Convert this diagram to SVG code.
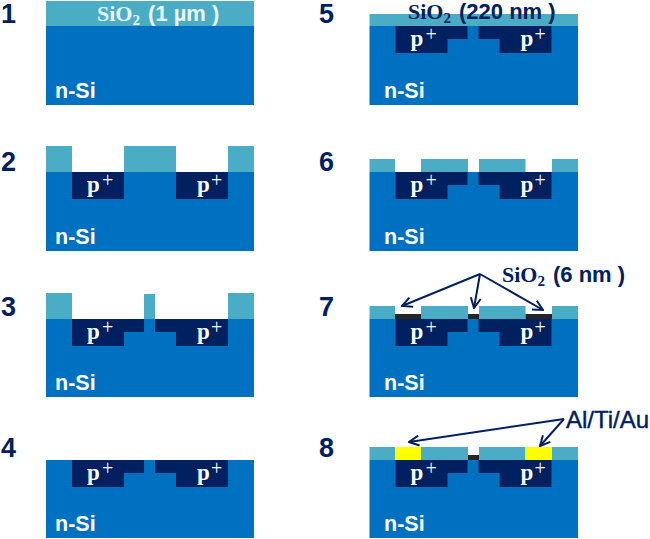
<svg xmlns="http://www.w3.org/2000/svg" xmlns:xlink="http://www.w3.org/1999/xlink" width="650" height="539" viewBox="0 0 650 539">
<style>
.si{fill:#0070c0}.ox{fill:#4bacc6}.p{fill:#002060}.blk{fill:#262626}.au{fill:#ffff00}
text{font-family:"Liberation Sans",Arial,sans-serif}
.num{font-size:27px;font-weight:bold;fill:#002060}
.n{font-size:21.5px;font-weight:bold;fill:#fff}
.pt{font-family:"Liberation Serif",serif;font-size:23px;font-weight:bold;fill:#fff}
.pl{font-family:"Liberation Serif",serif;font-size:20px;fill:#fff}
.sio{font-family:"Liberation Serif",serif;font-size:22px;font-weight:bold}
.sub{font-size:15px}
.par{font-size:22px;font-weight:bold}
.lab{font-size:24px;fill:#002060;stroke:#002060;stroke-width:.4}
.wh{fill:#eaf6f9}.dk{fill:#002060}
.con{fill:none;stroke:#002060;stroke-width:2}
</style>
<defs>
<marker id="a" viewBox="0 0 12 12" refX="11" refY="6" markerWidth="12" markerHeight="12" markerUnits="userSpaceOnUse" orient="auto"><path d="M1 1L11 6L1 11" fill="none" stroke="#002060" stroke-width="2"/></marker>
<g id="labels"><text class="pt" x="41" y="20">p</text><text class="pl" x="56" y="15">+</text><text class="pt" x="151" y="20">p</text><text class="pl" x="165" y="15">+</text></g>
<g id="pA"><rect class="p" x="26" y="0" width="52" height="27"/><rect class="p" x="130" y="0" width="52" height="27"/><use xlink:href="#labels" href="#labels"/></g>
<g id="pB"><path class="p" d="M26 0H98V13H78V27H26Z"/><path class="p" d="M109 0H182V27H130V13H109Z"/><use xlink:href="#labels" href="#labels"/></g>
</defs>

<g id="panel-1">
<text class="num" x="1" y="23">1</text>
<rect class="si" x="46" y="26" width="208" height="79"/>
<rect class="ox" x="46" y="1" width="208" height="25"/>
<text class="sio wh" x="97" y="21">SiO<tspan class="sub" dy="4">2</tspan></text>
<text class="par wh" x="148" y="21">(1 µm )</text>
<text class="n" x="55" y="98">n-Si</text>
</g>

<g id="panel-2">
<text class="num" x="1" y="171">2</text>
<rect class="si" x="46" y="172" width="208" height="79"/>
<rect class="ox" x="46" y="146" width="26" height="26"/><rect class="ox" x="124" y="146" width="52" height="26"/><rect class="ox" x="228" y="146" width="26" height="26"/>
<use xlink:href="#pA" href="#pA" x="46" y="172"/>
<text class="n" x="55" y="244">n-Si</text>
</g>

<g id="panel-3">
<text class="num" x="1" y="316">3</text>
<rect class="si" x="46" y="319" width="208" height="78"/>
<rect class="ox" x="46" y="293" width="26" height="26"/><rect class="ox" x="144" y="294" width="11" height="25"/><rect class="ox" x="228" y="293" width="26" height="26"/>
<use xlink:href="#pB" href="#pB" x="46" y="319"/>
<text class="n" x="55" y="390">n-Si</text>
</g>

<g id="panel-4">
<text class="num" x="1" y="457">4</text>
<rect class="si" x="46" y="460" width="208" height="78"/>
<use xlink:href="#pB" href="#pB" x="46" y="460"/>
<text class="n" x="55" y="531">n-Si</text>
</g>

<g id="panel-5">
<text class="num" x="319" y="23">5</text>
<rect class="si" x="369.5" y="26" width="208.500" height="79"/>
<rect class="ox" x="369.5" y="14" width="208.500" height="12"/>
<use xlink:href="#pB" href="#pB" x="369.500" y="26"/>
<text class="sio dk" x="408" y="19">SiO<tspan class="sub" dy="4">2</tspan></text>
<text class="par dk" x="459" y="19">(220 nm )</text>
<text class="n" x="384" y="98">n-Si</text>
</g>

<g id="panel-6">
<text class="num" x="319" y="171">6</text>
<rect class="si" x="369.5" y="172" width="208.500" height="79"/>
<rect class="ox" x="369.5" y="159" width="25.500" height="13"/><rect class="ox" x="421" y="159" width="47" height="13"/><rect class="ox" x="479" y="159" width="46.500" height="13"/><rect class="ox" x="552" y="159" width="26" height="13"/>
<use xlink:href="#pB" href="#pB" x="369.500" y="172"/>
<text class="n" x="384" y="244">n-Si</text>
</g>

<g id="panel-7">
<text class="num" x="319" y="316">7</text>
<rect class="si" x="369.5" y="319" width="208.500" height="78"/>
<rect class="ox" x="369.5" y="306" width="25.500" height="13"/><rect class="ox" x="421" y="306" width="47" height="13"/><rect class="ox" x="479" y="306" width="46.500" height="13"/><rect class="ox" x="552" y="306" width="26" height="13"/>
<rect class="blk" x="395" y="314" width="26" height="5"/><rect class="blk" x="468" y="314" width="11" height="5"/><rect class="blk" x="525.5" y="314" width="26.500" height="5"/>
<use xlink:href="#pB" href="#pB" x="369.500" y="319"/>
<text class="sio dk" x="502" y="282">SiO<tspan class="sub" dy="4">2</tspan></text>
<text class="par dk" x="553" y="282">(6 nm )</text>
<text class="n" x="384" y="390">n-Si</text>
</g>

<g id="panel-8">
<text class="num" x="319" y="457">8</text>
<rect class="si" x="369.5" y="460" width="208.500" height="78"/>
<rect class="ox" x="369.5" y="447" width="25.500" height="13"/><rect class="ox" x="421" y="447" width="47" height="13"/><rect class="ox" x="479" y="447" width="46.500" height="13"/><rect class="ox" x="552" y="447" width="26" height="13"/>
<rect class="au" x="395" y="447" width="26" height="13"/><rect class="au" x="525.5" y="447" width="26.500" height="13"/>
<rect class="blk" x="468" y="455" width="11" height="5"/>
<use xlink:href="#pB" href="#pB" x="369.500" y="460"/>
<text class="lab" x="566" y="428">Al/Ti/Au</text>
<text class="n" x="384" y="531">n-Si</text>
</g>

<g id="connectors">
<line class="con" x1="480" y1="274" x2="402" y2="306" marker-end="url(#a)"/>
<line class="con" x1="480" y1="274" x2="474" y2="308" marker-end="url(#a)"/>
<line class="con" x1="480" y1="274" x2="543" y2="310" marker-end="url(#a)"/>
<line class="con" x1="564" y1="419" x2="409" y2="442" marker-end="url(#a)"/>
<line class="con" x1="564" y1="419" x2="540" y2="446" marker-end="url(#a)"/>
</g>
</svg>
